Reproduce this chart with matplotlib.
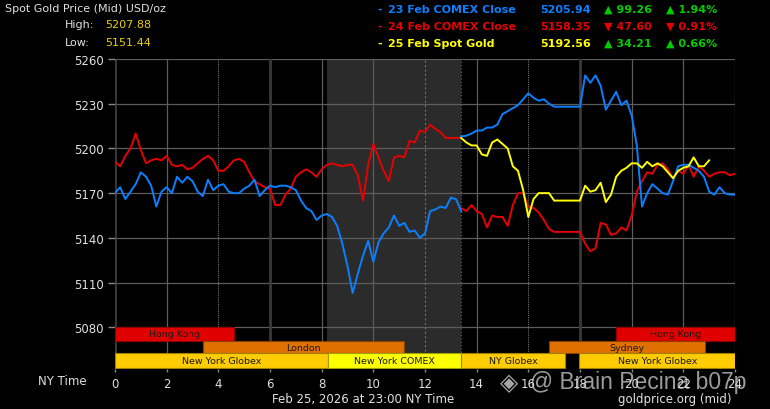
import numpy as np
import matplotlib
matplotlib.use("Agg")
import matplotlib.pyplot as plt

# ---------------- data ----------------
STEP = 0.2  # hours between samples
SPLIT = 13.4  # COMEX close hour where the day lines switch

# 24 Feb line (red) before 13:24, values every 0.2 h from 0.0
red_early = [
    5191, 5188, 5195, 5200, 5210,
    5199, 5190, 5192, 5193, 5192,
    5195, 5189, 5188, 5189, 5186,
    5187, 5190, 5193, 5195, 5192,
    5185, 5185, 5188, 5192, 5193,
    5191, 5184, 5178, 5176, 5174,
    5173, 5162, 5162, 5169, 5173,
    5181, 5184, 5186, 5184, 5181,
    5186, 5189, 5190, 5189, 5188,
    5189, 5189, 5182, 5165, 5189,
    5203, 5194, 5185, 5178, 5194,
    5195, 5194, 5205, 5204, 5212,
    5211, 5216, 5213, 5211, 5207,
    5207, 5207, 5207,
]
# 23 Feb line (blue) before 13:24
blue_early = [
    5170, 5174, 5166, 5171, 5176,
    5184, 5181, 5175, 5161, 5171,
    5174, 5170, 5181, 5177, 5181,
    5178, 5171, 5168, 5179, 5172,
    5175, 5176, 5171, 5170, 5170,
    5173, 5175, 5179, 5168, 5172,
    5175, 5174, 5175, 5175, 5174,
    5172, 5165, 5160, 5158, 5152,
    5155, 5156, 5154, 5148, 5136,
    5121, 5103, 5116, 5128, 5138,
    5124, 5137, 5143, 5147, 5155,
    5148, 5150, 5144, 5145, 5140,
    5143, 5158, 5159, 5161, 5160,
    5167, 5166, 5158,
]
# after 13:24, values every 0.2 h from 13.4
blue_late = [
    5208, 5208.5, 5210,
    5212, 5212, 5214, 5214, 5216,
    5223, 5225, 5227, 5229, 5233,
    5237, 5234, 5232, 5233, 5230,
    5228, 5228, 5228, 5228, 5228,
    5228, 5249, 5244, 5249, 5242,
    5226, 5232, 5238, 5229, 5232,
    5222, 5202, 5161, 5170, 5176,
    5173, 5170, 5169, 5178, 5188,
    5189, 5189, 5187, 5185, 5181,
    5171, 5169, 5174, 5170, 5169,
    5169,
]
red_late = [
    5160, 5158, 5162,
    5158, 5156, 5147, 5155, 5154,
    5154, 5148, 5162, 5170, 5170,
    5161, 5160, 5157, 5152, 5146,
    5144, 5144, 5144, 5144, 5144,
    5144, 5136, 5131, 5133, 5150,
    5149, 5142, 5143, 5147, 5145,
    5155, 5171, 5178, 5184, 5183,
    5189, 5190, 5186, 5180, 5185,
    5183, 5189, 5181, 5188, 5185,
    5181, 5183, 5184, 5184, 5182,
    5183,
]
# 25 Feb spot gold (yellow)
yellow = [
    5207, 5204, 5202,
    5202, 5196, 5195, 5204, 5206,
    5203, 5200, 5188, 5185, 5172,
    5154, 5166, 5170, 5170, 5170,
    5165, 5165, 5165, 5165, 5165,
    5165, 5175, 5171, 5172, 5177,
    5164, 5169, 5181, 5185, 5187,
    5190, 5190, 5187, 5191, 5188,
    5190, 5188, 5184, 5180, 5185,
    5187, 5188, 5194, 5188, 5188,
    5192,
]

y_ticks = [5080, 5110, 5140, 5170, 5200, 5230, 5260]
x_ticks = list(range(0, 25, 2))

# trading sessions: name, start hour, end hour, row
sess_names = ["Hong Kong", "Hong Kong", "London", "Sydney",
              "New York Globex", "New York COMEX", "NY Globex", "New York Globex"]
sess_start = [0, 19.4, 3.4, 16.8, 0, 8.25, 13.4, 17.98]
sess_end = [4.6, 24, 11.2, 22.85, 8.25, 13.4, 17.42, 24]
sess_row = [0, 0, 1, 1, 2, 2, 2, 2]
comex_shade = (8.2, 13.4)

leg_labels = ["23 Feb COMEX Close", "24 Feb COMEX Close", "25 Feb Spot Gold"]
leg_close = ["5205.94", "5158.35", "5192.56"]
leg_change = ["99.26", "47.60", "34.21"]
leg_pct = ["1.94%", "0.91%", "0.66%"]
leg_up = [True, False, True]

high_val = "5207.88"
low_val = "5151.44"

# ---------------- style ----------------
BLUE = "#0a80ff"
RED = "#e60000"
YEL = "#ffff00"
GREEN = "#00cc00"
TXT = "#e0e0e0"

W, H = 770, 410
fig = plt.figure(figsize=(W / 100, H / 100), dpi=100, facecolor="black")
ax = fig.add_axes([115 / W, 40 / H, 620 / W, 310 / H])
ax.set_facecolor("black")
ax.set_xlim(0, 24)
ax.set_ylim(5052, 5260)
for s in ax.spines.values():
    s.set_visible(False)


def px(x, y):
    return x / W, 1 - y / H


# shade for COMEX hours
ax.axvspan(*comex_shade, color="#2b2b2b", zorder=0, lw=0)
ax.axvline(comex_shade[1], color="#666666", lw=0.8, ls=(0, (1, 2)), zorder=1)

# grid
for yv in y_ticks:
    ax.axhline(yv, color="#5c5c5c", lw=0.9, zorder=1)
vstyle = {0: ("#3a3a3a", 2.0, "-"), 6: ("#3a3a3a", 2.0, "-"), 18: ("#3a3a3a", 2.0, "-"),
          4: ("#707070", 0.8, (0, (1, 1))), 16: ("#707070", 0.8, (0, (1, 1))),
          12: ("#707070", 0.8, (0, (2, 2)))}
for xv in x_ticks:
    c, lw, ls = vstyle.get(xv, ("#5c5c5c", 0.9, "-"))
    ax.axvline(xv, color=c, lw=lw, ls=ls, zorder=1)

# lines
t_early = np.arange(len(red_early)) * STEP
t_late = SPLIT + np.arange(len(red_late)) * STEP
t_yel = SPLIT + np.arange(len(yellow)) * STEP
lw = 1.4
ax.plot(t_early, red_early, color=RED, lw=lw, zorder=3)
ax.plot(t_late, red_late, color=RED, lw=lw, zorder=3)
ax.plot(np.arange(len(blue_early)) * STEP, blue_early, color=BLUE, lw=lw, zorder=3)
ax.plot(SPLIT + np.arange(len(blue_late)) * STEP, blue_late, color=BLUE, lw=lw, zorder=3)
ax.plot(t_yel, yellow, color=YEL, lw=lw, zorder=4)

# session bars
row_bounds = [(5071, 5080), (5062.5, 5071), (5053, 5062.5)]
def sess_color(name):
    if name == "Hong Kong":
        return "#e00000", "#900000"
    if name in ("London", "Sydney"):
        return "#e07000", "#8a4000"
    if name == "New York COMEX":
        return "#ffff00", "#a0a000"
    return "#ffcc00", "#a08000"

for name, s0, s1, r in zip(sess_names, sess_start, sess_end, sess_row):
    lo, hi = row_bounds[r]
    fc, ec = sess_color(name)
    ax.bar(s0, hi - lo, width=s1 - s0, bottom=lo, align="edge",
           color=fc, edgecolor=ec, lw=0.8, zorder=5)
    ax.text((s0 + s1) / 2, (lo + hi) / 2, name, ha="center", va="center",
            fontsize=6.8, color="#1a1a1a", zorder=6)

# ticks
ax.set_yticks(y_ticks)
ax.set_yticklabels([str(v) for v in y_ticks])
ax.set_xticks(x_ticks)
ax.set_xticklabels([str(v) for v in x_ticks])
ax.tick_params(axis="y", length=5, width=1, color="#888888", labelcolor=TXT,
               labelsize=8.5, pad=3)
ax.tick_params(axis="x", length=2, width=1, color="#888888", labelcolor=TXT,
               labelsize=8.5, pad=4)

fig.text(*px(38, 382), "NY Time", color=TXT, fontsize=8.5, ha="left", va="center")

# header left
fig.text(*px(5, 9), "Spot Gold Price (Mid) USD/oz", color=TXT, fontsize=8,
         ha="left", va="center")
fig.text(*px(65, 25), "High:", color=TXT, fontsize=8, ha="left", va="center")
fig.text(*px(105, 25), high_val, color="#e8d000", fontsize=8, ha="left", va="center")
fig.text(*px(65, 43), "Low:", color=TXT, fontsize=8, ha="left", va="center")
fig.text(*px(105, 43), low_val, color="#e8d000", fontsize=8, ha="left", va="center")

# header right legend
lcols = [BLUE, RED, YEL]
for i in range(3):
    yy = 10 + 17 * i
    c = lcols[i]
    fig.text(*px(377, yy), "-", color=c, fontsize=8, fontweight="bold", ha="left", va="center")
    fig.text(*px(388, yy), leg_labels[i], color=c, fontsize=8, fontweight="bold",
             ha="left", va="center")
    fig.text(*px(540, yy), leg_close[i], color=c, fontsize=8, fontweight="bold",
             ha="left", va="center")
    arrow = "\u25B2" if leg_up[i] else "\u25BC"
    cc = GREEN if leg_up[i] else RED
    fig.text(*px(604, yy), arrow + " " + leg_change[i], color=cc, fontsize=8,
             fontweight="bold", ha="left", va="center")
    fig.text(*px(666, yy), arrow + " " + leg_pct[i], color=cc, fontsize=8,
             fontweight="bold", ha="left", va="center")

# footer
fig.text(*px(363, 400), "Feb 25, 2026 at 23:00 NY Time", color=TXT, fontsize=8.5,
         ha="center", va="center")
fig.text(*px(618, 400), "goldprice.org (mid)", color=TXT, fontsize=8.5,
         ha="left", va="center")

# watermark
fig.text(*px(500, 383), "\u25C8", color="#d0d0d0", alpha=0.8, fontsize=17,
         ha="left", va="center")
fig.text(*px(530, 383), "@ Brain Pecina b07p", color="#d0d0d0", alpha=0.75,
         fontsize=16.5, family="Liberation Sans", ha="left", va="center")

fig.savefig("out.png", dpi=100, facecolor="black")
